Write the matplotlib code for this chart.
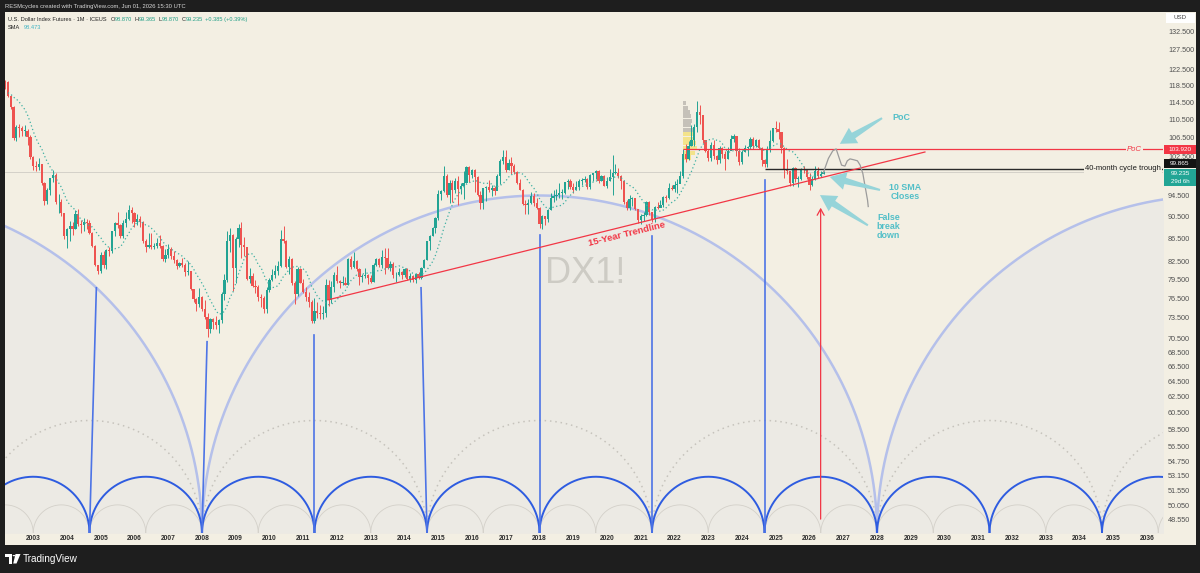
import numpy as np
import pandas as pd
import matplotlib
matplotlib.use('Agg')
import matplotlib.pyplot as plt
from matplotlib.patches import Rectangle, Polygon, Circle
from matplotlib.ticker import NullLocator

plt.rcParams['font.family'] = ['Liberation Sans', 'DejaVu Sans']

# ---------------- data (monthly DX1!, starting Jul 2001) ----------------
first_month = (2001, 7)
first_open = 118.6
closes = [
    116.4, 113.9, 113.1, 115.6, 116.6, 116.8,
    119.9, 119.6, 119.3, 115.9, 113.4, 106.4, 108.8, 108.6, 108.0, 108.0, 106.6, 102.2,
    100.4, 100.3, 100.8, 97.0, 93.5, 95.6, 97.9, 98.6, 93.2, 93.2, 91.2, 86.9,
    88.2, 88.8, 88.3, 91.0, 89.1, 88.9, 89.5, 89.4, 87.6, 85.2, 81.9, 80.9,
    83.6, 82.0, 84.5, 84.4, 87.8, 89.4, 88.9, 87.0, 89.3, 90.0, 91.7, 91.2,
    89.5, 90.1, 89.6, 86.1, 85.0, 85.4, 85.1, 85.2, 85.7, 85.2, 82.9, 83.6,
    84.7, 83.5, 82.8, 81.7, 82.3, 82.0, 80.7, 80.9, 78.0, 76.4, 75.7, 76.7,
    74.8, 73.6, 71.8, 73.3, 72.9, 72.4, 73.2, 77.2, 79.4, 86.1, 87.2, 81.4,
    86.5, 88.5, 85.4, 85.0, 79.6, 80.1, 78.5, 78.3, 76.7, 76.5, 74.8, 77.8,
    79.5, 80.3, 81.0, 81.7, 86.4, 86.1, 81.6, 83.0, 79.0, 77.2, 81.2, 79.0,
    77.6, 76.8, 75.9, 73.0, 74.6, 74.3, 74.1, 74.2, 78.6, 76.2, 78.4, 80.2,
    79.3, 79.0, 79.0, 78.7, 83.0, 81.6, 82.6, 81.2, 79.9, 80.1, 80.2, 79.8,
    79.2, 82.0, 83.0, 81.9, 83.3, 83.2, 81.5, 82.1, 80.2, 80.2, 80.7, 80.2,
    81.3, 79.7, 80.1, 79.5, 80.4, 79.8, 81.5, 82.8, 86.0, 87.0, 88.4, 90.3,
    94.8, 95.3, 98.4, 94.6, 96.9, 95.5, 97.3, 95.8, 96.3, 97.0, 100.2, 98.6,
    99.6, 98.2, 94.6, 93.1, 95.9, 96.1, 95.5, 96.0, 95.4, 98.4, 101.5, 102.2,
    99.5, 101.1, 100.4, 99.1, 97.0, 95.6, 92.9, 92.7, 93.1, 94.5, 93.1, 92.1,
    89.1, 90.6, 90.1, 91.8, 94.0, 94.5, 94.6, 95.1, 95.1, 97.1, 97.3, 96.2,
    95.6, 96.2, 97.3, 97.5, 97.8, 96.1, 98.5, 98.9, 99.4, 97.4, 98.3, 96.4,
    97.4, 98.1, 99.0, 99.0, 98.3, 97.4, 93.3, 92.1, 93.9, 94.0, 91.9, 89.9,
    90.6, 90.9, 93.2, 91.3, 90.0, 92.4, 92.2, 92.6, 94.2, 94.1, 96.0, 95.7,
    96.5, 96.7, 98.3, 103.0, 101.8, 104.7, 105.9, 108.7, 112.1, 111.5, 105.9, 103.5,
    102.1, 104.9, 102.5, 101.7, 104.3, 102.9, 101.9, 103.6, 106.2, 106.7, 103.5, 101.3,
    103.3, 104.2, 104.5, 106.2, 104.7, 105.9, 104.1, 101.7, 100.8, 104.0, 105.7, 108.5,
    108.4, 107.6, 104.2, 99.5, 99.3, 96.9, 100.0, 97.8, 97.8, 99.8, 99.5, 98.1,
    96.6, 97.7, 99.3, 98.4, 98.87, 99.235,
]
highs = [
    121.0, 116.5, 115.5, 116.6, 117.5, 117.8,
    120.9, 120.4, 119.9, 119.5, 116.3, 113.7, 109.2, 109.4, 109.1, 109.3, 108.3, 107.0,
    102.5, 101.5, 102.0, 100.9, 97.2, 96.0, 98.0, 99.6, 98.9, 94.8, 93.8, 91.2,
    88.5, 89.7, 89.6, 91.7, 91.9, 89.9, 90.2, 90.0, 89.9, 87.7, 85.3, 82.0,
    84.1, 84.4, 84.7, 85.0, 87.9, 89.6, 91.4, 89.2, 89.8, 91.4, 92.6, 92.3,
    91.4, 91.0, 90.6, 89.7, 86.4, 87.5, 87.5, 85.7, 86.7, 87.1, 85.3, 84.6,
    85.5, 85.1, 84.3, 83.0, 82.5, 83.1, 82.3, 82.6, 80.9, 78.0, 76.6, 78.2,
    76.9, 76.2, 74.3, 73.5, 73.5, 73.8, 73.4, 77.5, 80.4, 87.9, 88.5, 87.3,
    86.8, 89.1, 89.6, 86.8, 85.1, 81.5, 80.6, 79.4, 78.6, 77.2, 76.9, 78.3,
    79.8, 81.3, 81.9, 82.6, 88.0, 88.7, 86.2, 83.5, 83.1, 79.3, 81.6, 81.4,
    79.7, 78.4, 77.6, 76.3, 76.6, 76.0, 75.5, 75.4, 79.7, 79.5, 79.3, 80.8,
    81.8, 79.5, 80.1, 79.9, 83.1, 83.5, 84.1, 82.8, 81.4, 80.4, 81.5, 80.4,
    80.3, 82.2, 83.2, 83.2, 84.5, 84.8, 84.8, 82.6, 82.4, 80.8, 81.5, 81.0,
    81.5, 81.4, 80.6, 80.3, 80.6, 80.8, 81.6, 82.9, 86.1, 87.1, 88.6, 90.5,
    95.5, 95.5, 100.4, 98.7, 97.5, 97.6, 98.0, 98.3, 96.9, 99.3, 100.5, 100.5,
    99.9, 99.8, 98.4, 95.3, 96.0, 96.4, 97.6, 96.6, 96.3, 98.8, 101.9, 103.8,
    103.8, 101.8, 102.3, 100.9, 99.4, 97.8, 95.8, 93.7, 93.8, 95.2, 95.1, 94.0,
    92.4, 90.9, 90.7, 91.9, 95.0, 95.5, 95.7, 96.9, 95.7, 97.2, 97.7, 97.7,
    96.9, 97.4, 97.7, 97.9, 98.4, 98.0, 98.7, 99.0, 99.7, 99.7, 98.5, 98.5,
    98.2, 99.9, 102.8, 100.9, 100.0, 98.6, 97.5, 93.6, 94.7, 94.3, 94.1, 92.0,
    91.0, 91.4, 93.4, 93.4, 91.4, 92.5, 93.2, 93.7, 94.5, 94.6, 96.9, 96.5,
    97.4, 97.8, 99.4, 103.9, 105.0, 105.8, 109.3, 109.5, 114.8, 113.9, 111.6, 106.0,
    104.0, 105.4, 105.9, 102.8, 104.7, 104.5, 103.6, 104.4, 107.0, 107.3, 106.9, 104.1,
    103.8, 104.9, 104.7, 106.5, 106.5, 106.1, 106.1, 104.5, 101.9, 104.6, 108.1, 108.6,
    110.2, 109.9, 107.7, 104.4, 101.9, 99.4, 100.3, 100.3, 98.4, 100.0, 100.4, 99.9,
    99.0, 98.4, 100.4, 100.2, 99.3, 99.365,
]
lows = [
    115.9, 113.4, 111.3, 112.9, 115.1, 114.8,
    116.5, 118.8, 117.6, 115.6, 112.8, 106.0, 105.8, 106.5, 106.7, 106.9, 104.8, 101.8,
    99.7, 99.3, 99.6, 96.6, 92.6, 92.9, 94.6, 97.2, 92.9, 91.2, 90.7, 86.5,
    84.9, 86.1, 87.1, 88.2, 88.7, 87.6, 87.9, 88.3, 87.3, 85.0, 81.7, 80.4,
    80.6, 81.5, 81.3, 83.5, 84.0, 86.9, 88.5, 86.6, 86.7, 88.6, 89.8, 89.4,
    88.6, 89.0, 88.6, 85.7, 84.1, 84.8, 84.6, 84.6, 84.8, 84.8, 82.7, 82.4,
    83.2, 83.0, 82.3, 81.3, 81.6, 81.6, 80.1, 80.3, 77.8, 76.0, 74.5, 75.2,
    74.5, 73.3, 70.7, 71.3, 71.8, 71.9, 71.3, 72.7, 76.2, 79.2, 84.2, 77.7,
    79.0, 85.1, 83.1, 83.5, 79.4, 79.0, 78.4, 77.4, 76.1, 75.2, 74.2, 74.3,
    77.5, 79.3, 79.8, 80.3, 81.6, 85.7, 81.4, 80.5, 78.6, 75.6, 76.9, 78.9,
    77.3, 76.1, 75.2, 72.8, 72.7, 73.5, 73.4, 73.4, 73.7, 75.4, 75.8, 77.5,
    78.9, 78.1, 78.7, 78.6, 78.7, 81.3, 81.4, 80.9, 78.6, 79.2, 79.8, 78.8,
    78.9, 79.2, 81.7, 81.6, 81.5, 80.5, 81.3, 80.9, 79.8, 79.1, 80.1, 79.7,
    80.0, 79.5, 79.2, 79.1, 78.9, 79.7, 79.6, 81.5, 82.8, 84.5, 86.9, 87.6,
    89.9, 93.6, 95.2, 94.3, 93.1, 93.3, 95.0, 92.6, 94.8, 93.8, 97.0, 97.2,
    97.9, 95.2, 94.5, 91.9, 91.9, 93.4, 95.2, 94.4, 94.6, 95.5, 96.8, 100.9,
    99.2, 99.5, 98.8, 98.8, 96.8, 95.5, 92.6, 91.0, 91.0, 92.8, 92.5, 91.9,
    88.4, 88.2, 88.9, 89.5, 91.8, 93.2, 93.7, 94.1, 93.8, 94.8, 95.7, 95.8,
    95.0, 95.5, 95.6, 96.6, 97.1, 95.8, 95.8, 97.4, 97.8, 96.9, 97.3, 96.3,
    96.0, 97.3, 94.6, 98.8, 97.9, 95.7, 92.8, 91.7, 91.7, 92.5, 91.7, 89.4,
    89.2, 89.7, 90.6, 90.9, 89.5, 89.6, 91.9, 92.3, 92.3, 93.3, 93.9, 95.5,
    95.2, 95.1, 97.7, 98.0, 101.3, 101.6, 104.7, 104.6, 107.7, 109.5, 105.3, 103.4,
    101.5, 101.5, 101.9, 100.8, 101.0, 102.0, 99.6, 101.8, 103.8, 105.4, 102.5, 100.6,
    100.8, 103.4, 102.6, 104.0, 104.0, 104.4, 104.0, 100.5, 100.2, 100.2, 103.4, 105.4,
    107.6, 106.1, 103.2, 97.9, 98.7, 96.4, 96.4, 97.1, 96.2, 97.5, 99.0, 97.7,
    95.6, 96.3, 97.5, 98.0, 98.1, 98.87,
]
sma_length = 10
sma_legend_value = 98.473
change_text = '+0.385 (+0.39%)'

year_ticks = list(range(2003, 2037))
price_ticks = [132.5, 127.5, 122.5, 118.5, 114.5, 110.5, 106.5, 102.5, 94.5, 90.5,
               86.5, 82.5, 79.5, 76.5, 73.5, 70.5, 68.5, 66.5, 64.5, 62.5, 60.5,
               58.5, 56.5, 54.75, 53.15, 51.55, 50.05, 48.55]

# time cycles (months) anchored on the Jan-2008 trough
cycle_anchor = 2008.0
cycle_small = 20
cycle_main = 40
cycle_dotted = 80
cycle_big = 240

# cycle-trough markers
low_base_t = [2004.667, 2008.0, 2011.333, 2014.667, 2018.0, 2021.333, 2024.667]
low_tip_t = [2004.87, 2008.15, 2011.333, 2014.49, 2018.0, 2021.333, 2024.667]
low_tip_v = [78.2, 70.0, 71.0, 78.2, 87.2, 86.9, 97.6]

trend_t = [2011.73, 2029.42]
trend_v = [76.28, 103.35]
poc_level, poc_start = 103.92, 2022.25
trough_level, trough_start = 99.865, 2024.667
arrow_t, arrow_v0, arrow_v1 = 2026.33, 48.35, 92.7

proj_t = [2026.41, 2026.56, 2026.69, 2026.79, 2026.85, 2026.95, 2027.05, 2027.12,
          2027.20, 2027.32, 2027.42, 2027.50, 2027.58, 2027.65, 2027.72, 2027.74]
proj_v = [99.05, 102.0, 103.6, 104.0, 102.7, 100.6, 100.4, 101.5,
          101.9, 101.7, 101.5, 100.6, 98.9, 96.2, 93.6, 92.4]

vp_start = 2022.25
vp_prices = [114.2, 113.2, 112.2, 111.2, 110.2, 109.2, 108.2, 107.2, 106.2, 105.2, 104.2, 103.2, 102.2]
vp_months = [1.2, 1.8, 2.4, 3.0, 3.2, 2.8, 3.4, 4.0, 4.4, 4.6, 5.0, 4.2, 3.0]
vp_value_area = [False] * 7 + [True] * 6

notes_text = ['PoC', '10 SMA\nCloses', 'False\nbreak\ndown']
notes_pos = [(2028.72, 111.0), (2028.83, 95.2), (2028.34, 88.6)]
notes_tail = [(2028.15, 110.8), (2028.09, 95.6), (2027.73, 88.9)]
notes_tip = [(2026.90, 105.1), (2026.60, 98.2), (2026.31, 94.6)]

# ---------------- colours ----------------
DARK = '#1e1e1e'
CREAM = '#f3efe3'
FILL = '#eceae4'
UP, DOWN = '#22a393', '#ee5350'
RED = '#f23645'
TEAL_TXT = '#52bfc8'
TEAL_ARW = '#96d4d9'

W, H = 1200, 573
fig = plt.figure(figsize=(W / 100, H / 100), dpi=100)
fig.patch.set_facecolor(DARK)


def px_rect(x0, y0, x1, y1, color, z=5):
    fig.add_artist(Rectangle((x0 / W, 1 - y1 / H), (x1 - x0) / W, (y1 - y0) / H,
                             transform=fig.transFigure, facecolor=color,
                             edgecolor='none', zorder=z))


def px_text(x, y, s, **kw):
    return fig.text(x / W, 1 - y / H, s, **kw)


px_rect(5, 12, 1196, 545, CREAM, z=-1)

ax = fig.add_axes([5 / W, 1 - 533 / H, 1158 / W, 521 / H])
ax.set_facecolor(CREAM)
ax.set_yscale('log')
xmin, xmax = 2002.163, 2036.474
ymin, ymax = 47.26, 137.78
ax.set_xlim(xmin, xmax)
ax.set_ylim(ymin, ymax)
for s in ax.spines.values():
    s.set_visible(False)


# ---------------- cycles ----------------
def arc(t0, t1, n=240):
    x0 = ax.transData.transform((t0, 100))[0]
    x1 = ax.transData.transform((t1, 100))[0]
    yb = ax.transAxes.transform((0, 0))[1]
    cx, r = (x0 + x1) / 2, (x1 - x0) / 2
    th = np.linspace(np.pi, 0, n)
    pts = np.column_stack([cx + r * np.cos(th), yb + r * np.sin(th)])
    d = ax.transData.inverted().transform(pts)
    return d[:, 0], np.maximum(d[:, 1], ymin)


def cycle_starts(months):
    p = months / 12
    k0 = int(np.floor((xmin - cycle_anchor) / p)) - 1
    k1 = int(np.ceil((xmax - cycle_anchor) / p)) + 1
    return [cycle_anchor + k * p for k in range(k0, k1)], p


starts, p = cycle_starts(cycle_big)
for s0 in starts:
    x, y = arc(s0, s0 + p)
    ax.fill_between(x, ymin, y, color=FILL, lw=0, zorder=0.5)
    ax.plot(x, y, color='#b5c0ea', lw=1.8, zorder=1.5, solid_capstyle='round')

starts, p = cycle_starts(cycle_main)
for s0 in starts:
    x, y = arc(s0, s0 + p)
    ax.fill_between(x, ymin, y, color=FILL, lw=0, zorder=0.6)

starts, p = cycle_starts(cycle_small)
for s0 in starts:
    x, y = arc(s0, s0 + p)
    ax.plot(x, y, color='#d3d0c9', lw=0.6, zorder=1.2)

starts, p = cycle_starts(cycle_dotted)
for s0 in starts:
    x, y = arc(s0, s0 + p)
    ax.plot(x, y, color='#c6c3bc', lw=1.1, ls=(0, (1, 2.5)), zorder=1.2)

starts, p = cycle_starts(cycle_main)
for s0 in starts:
    x, y = arc(s0, s0 + p)
    ax.plot(x, y, color='#2e5ce0', lw=1.4, zorder=1.8)

for b, tt, v in zip(low_base_t, low_tip_t, low_tip_v):
    ax.plot([b, tt], [ymin, v], color='#4d74e6', lw=1.2, zorder=2)

# watermark
ax.text(2019.35, 80.6, 'DX1!', fontsize=26, color='#cdcbc4', ha='center', va='center', zorder=0.9)

# ---------------- price ----------------
n = len(closes)
t = np.array([first_month[0] + (first_month[1] - 1) / 12 + i / 12 for i in range(n)])
c = np.array(closes)
o = np.array([first_open] + closes[:-1])
hi = np.array(highs)
lo = np.array(lows)
up = c >= o
cols = np.where(up, UP, DOWN)

ax.axhline(c[-1], color='#cfccc4', lw=0.6, zorder=1.0)

ax.vlines(t, lo, hi, colors=cols, lw=0.7, zorder=3)
body_lo = np.minimum(o, c)
body_h = np.maximum(np.abs(c - o), 0.15)
ax.bar(t, body_h, bottom=body_lo, width=0.8 / 12, color=cols, lw=0, zorder=3.1)

sma = pd.Series(c).rolling(sma_length).mean()
ax.plot(t, sma, color='#3fb0a3', lw=0.9, ls=(0, (1, 2)), zorder=3.2)

# volume profile
for pr, mo, va in zip(vp_prices, vp_months, vp_value_area):
    ax.barh(pr, mo / 12, left=vp_start, height=0.9,
            color='#f4e27c' if va else '#bdb9b2', alpha=0.85, lw=0, zorder=2.8)

# lines
ax.hlines(poc_level, poc_start, xmax, color=RED, lw=0.9, zorder=4)
ax.hlines(trough_level, trough_start, xmax, color='#2a2a2a', lw=1.0, zorder=4)
ax.plot(trend_t, trend_v, color=RED, lw=0.9, zorder=4)
ax.plot(proj_t, proj_v, color='#9b9b9b', lw=0.9, zorder=4)
ax.annotate('', xy=(arrow_t, arrow_v1), xytext=(arrow_t, arrow_v0),
            arrowprops=dict(arrowstyle='->,head_length=0.45,head_width=0.25', color=RED, lw=0.9),
            zorder=4)

ax.text(2034.16, trough_level, '40-month cycle trough', fontsize=5.5, color='#1a1a1a',
        ha='left', va='center', zorder=5,
        bbox=dict(boxstyle='square,pad=0.15', fc=CREAM, ec='none'))
ax.text(2035.41, poc_level, 'PoC', fontsize=5.6, color=RED, style='italic',
        ha='left', va='center', zorder=5,
        bbox=dict(boxstyle='square,pad=0.15', fc=CREAM, ec='none'))

# trendline label
p0 = ax.transData.transform((trend_t[0], trend_v[0]))
p1 = ax.transData.transform((trend_t[1], trend_v[1]))
ang = np.degrees(np.arctan2(p1[1] - p0[1], p1[0] - p0[0]))
ax.text(2020.59, 87.35, '15-Year Trendline', fontsize=6.8, color=RED, weight='bold',
        rotation=ang, rotation_mode='anchor', ha='center', va='center', zorder=5)


# teal arrow markers
def marker_arrow(tail, tip, w_tail=2.0, w_body=6.5, w_head=18.0, head_len=16.0):
    a = ax.transData.transform(tail)
    b = ax.transData.transform(tip)
    d = b - a
    u = d / np.hypot(*d)
    nv = np.array([-u[1], u[0]])
    hb = b - u * head_len
    pts = [a + nv * w_tail / 2, hb + nv * w_body / 2, hb + nv * w_head / 2, b,
           hb - nv * w_head / 2, hb - nv * w_body / 2, a - nv * w_tail / 2]
    dd = ax.transData.inverted().transform(np.array(pts))
    ax.add_patch(Polygon(dd, closed=True, facecolor=TEAL_ARW, edgecolor='none', zorder=6))


for txt, pos, tl, tp in zip(notes_text, notes_pos, notes_tail, notes_tip):
    marker_arrow(tl, tp)
    ax.text(pos[0], pos[1], txt, fontsize=6.4, color=TEAL_TXT, weight='bold',
            ha='center', va='center', linespacing=1.0, zorder=6)

# ---------------- axes ticks ----------------
ax.set_xticks(year_ticks)
ax.set_xticklabels([str(y) for y in year_ticks], fontsize=4.8, weight='bold', color='#2d2d2d')
ax.xaxis.set_minor_locator(NullLocator())
ax.yaxis.tick_right()
ax.set_yticks(price_ticks)
ax.set_yticklabels([f'{v:.3f}' for v in price_ticks], fontsize=5.2, color='#505050')
ax.yaxis.set_minor_locator(NullLocator())
ax.tick_params(axis='x', length=0, pad=1.6)
ax.tick_params(axis='y', length=0, pad=3.6)


def ypx(v):
    return H - ax.transData.transform((2020, v))[1]


# right-hand price labels
yr = ypx(poc_level)
px_rect(1164, yr - 4.3, 1196, yr + 4.3, RED)
px_text(1180, yr, f'{poc_level:.3f}', fontsize=4.6, color='white', ha='center', va='center', zorder=6)
yb = ypx(trough_level) - 5
px_rect(1164, yb - 4.5, 1196, yb + 4.5, '#131313')
px_text(1180, yb, f'{trough_level:.3f}', fontsize=4.6, color='white', ha='center', va='center', zorder=6)
yt = ypx(c[-1])
px_rect(1164, yt - 2.5, 1196, yt + 14, '#22a595')
px_text(1180, yt + 2, f'{c[-1]:.3f}', fontsize=4.6, color='white', ha='center', va='center', zorder=6)
px_text(1180, yt + 10, '29d 6h', fontsize=4.4, color='white', ha='center', va='center', zorder=6)

px_rect(1166, 13, 1195, 22.5, 'white')
px_text(1180.5, 17.8, 'USD', fontsize=4.4, color='#444444', ha='center', va='center', zorder=6)

# ---------------- header texts ----------------
px_text(5, 6.5, 'RESMcycles created with TradingView.com, Jun 01, 2026 15:30 UTC',
        fontsize=4.2, color='#d8d8d8', ha='left', va='center')

renderer = fig.canvas.get_renderer()


def segments(x, y, segs, size):
    for s, col, gap in segs:
        tx = px_text(x, y, s, fontsize=size, color=col, ha='left', va='center', zorder=6)
        x += tx.get_window_extent(renderer).width + gap


GREEN = '#1f9e86'
segments(8, 19.5, [('U.S. Dollar Index Futures · 1M · ICEUS', '#222222', 4),
                   ('O', '#222222', 0), (f'{o[-1]:.3f}', GREEN, 2.5),
                   ('H', '#222222', 0), (f'{hi[-1]:.3f}', GREEN, 2.5),
                   ('L', '#222222', 0), (f'{lo[-1]:.3f}', GREEN, 2.5),
                   ('C', '#222222', 0), (f'{c[-1]:.3f}', GREEN, 2.5),
                   (change_text, GREEN, 0)], 4.1)
segments(8, 27.5, [('SMA', '#222222', 3), (f'{sma_legend_value:.3f}', '#3db3c4', 0)], 4.1)

# ---------------- TradingView logo ----------------
logo_T = np.array([[5, 554], [12, 554], [12, 563.5], [9, 563.5], [9, 557.2], [5, 557.2]])
logo_7 = np.array([[15.5, 554], [20.5, 554], [16.5, 563.5], [13.2, 563.5]])
for poly in (logo_T, logo_7):
    fig.add_artist(Polygon(np.column_stack([poly[:, 0] / W, 1 - poly[:, 1] / H]), closed=True,
                           transform=fig.transFigure, facecolor='white', edgecolor='none', zorder=6))
fig.add_artist(Circle((14.0 / W, 1 - 555.6 / H), 1.4 / W, transform=fig.transFigure,
                      facecolor='white', edgecolor='none', zorder=6))
px_text(22.5, 558.8, 'TradingView', fontsize=7.2, color='white', ha='left', va='center')

fig.savefig('out.png', dpi=100, facecolor=fig.get_facecolor())
